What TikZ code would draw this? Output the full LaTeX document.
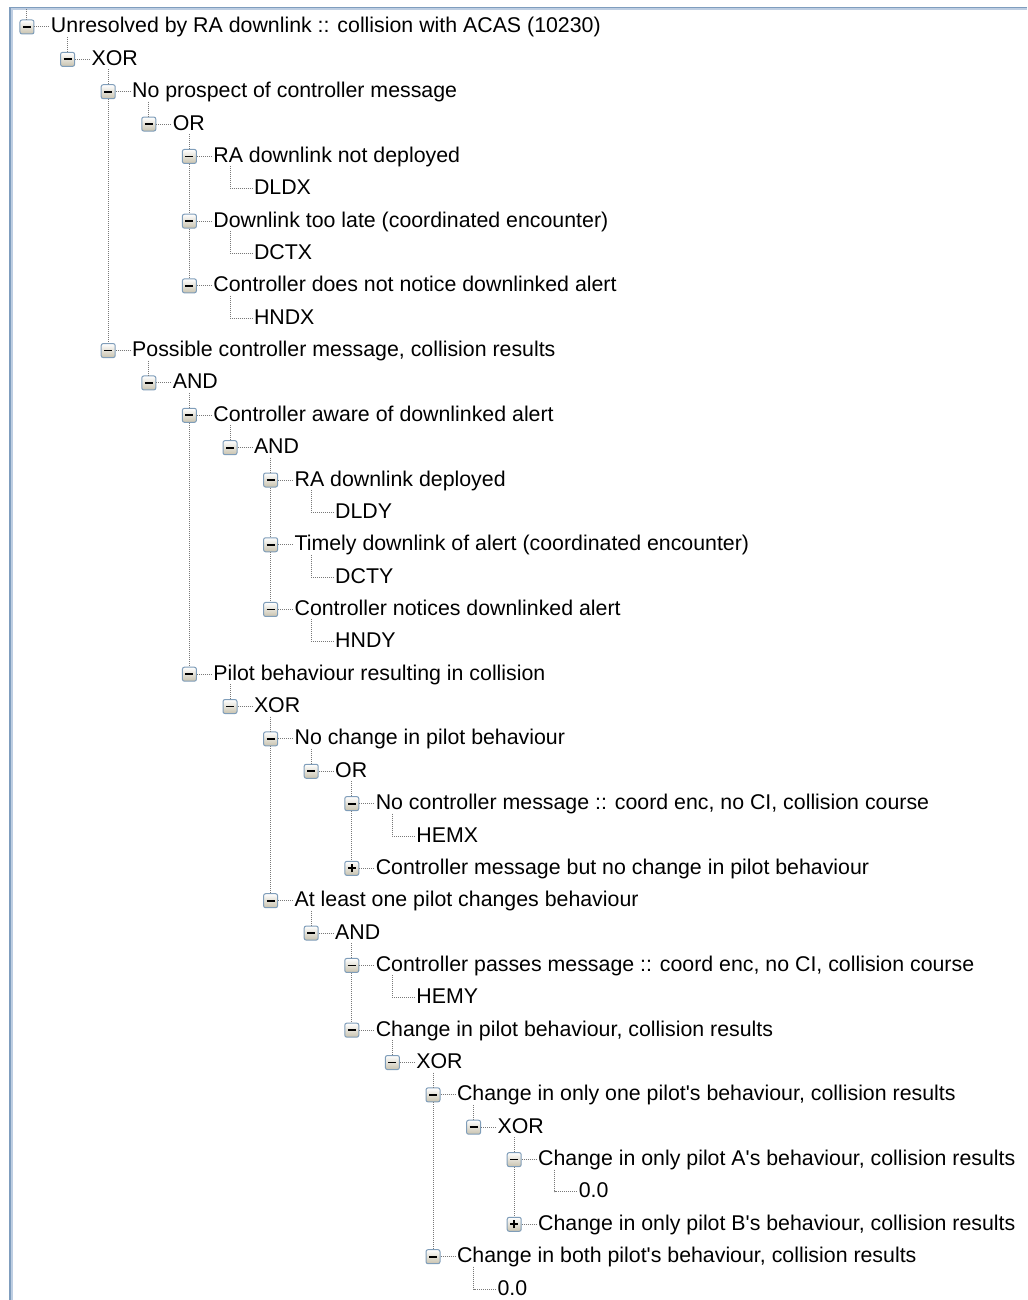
\documentclass[tikz,border=0pt]{standalone}
\usepackage{fontspec}
\setmainfont{Liberation Sans}
\usetikzlibrary{positioning}
\definecolor{boxedge}{RGB}{127,157,185}
\definecolor{boxfoot}{RGB}{200,194,174}
\definecolor{dotgray}{RGB}{120,120,120}
\definecolor{frameout}{RGB}{127,157,190}
\definecolor{framein}{RGB}{190,206,226}
\tikzstyle{minusbox}=[rectangle, draw=boxedge, line width=0.75pt, rounded corners=1.5pt, minimum size=10.5pt, inner sep=0pt, top color=white, bottom color=boxfoot,
  path picture={\draw[black, line width=1.3pt] (path picture bounding box.center) ++(-3pt,0) -- ++(6pt,0);}]
\tikzstyle{plusbox}=[rectangle, draw=boxedge, line width=0.75pt, rounded corners=1.5pt, minimum size=10.5pt, inner sep=0pt, top color=white, bottom color=boxfoot,
  path picture={\draw[black, line width=1.3pt] (path picture bounding box.center) ++(-3pt,0) -- ++(6pt,0)
    (path picture bounding box.center) ++(0,-3pt) -- ++(0,6pt);}]
\tikzstyle{txt}=[inner xsep=1.5pt, inner ysep=0pt, outer sep=0pt, text height=12pt, text depth=3pt, font=\fontsize{16pt}{19pt}\selectfont]
\tikzstyle{treeline}=[draw=dotgray, line width=0.75pt, dash pattern=on 0.75pt off 0.75pt]

\begin{document}
\begin{tikzpicture}[x=30.45pt, y=-24.27pt]
    \useasboundingbox (-0.665,-0.834) rectangle (24.631,39.339);
    % window frame
    \draw[frameout, line width=1.125pt] (24.631,-0.603) -- (-0.419,-0.603) -- (-0.419,39.339);
    \draw[framein, line width=1.125pt] (24.631,-0.556) -- (-0.369,-0.556) -- (-0.369,39.339);
    \begin{scope}
        \coordinate (top) at (0,-0.56);
        \node[minusbox] (b0) at (0,0) {}; \node[txt, right=16.5pt of b0.center] (t0) {Unresolved by RA downlink :: collision with ACAS (10230)};
        \node[minusbox] (b1) at (1,1) {}; \node[txt, right=16.5pt of b1.center] (t1) {XOR};
        \node[minusbox] (b2) at (2,2) {}; \node[txt, right=16.5pt of b2.center] (t2) {No prospect of controller message};
        \node[minusbox] (b3) at (3,3) {}; \node[txt, right=16.5pt of b3.center] (t3) {OR};
        \node[minusbox] (b4) at (4,4) {}; \node[txt, right=16.5pt of b4.center] (t4) {RA downlink not deployed};
        \coordinate (b5) at (5,5); \node[txt, right=16.5pt of b5.center] (t5) {DLDX};
        \node[minusbox] (b6) at (4,6) {}; \node[txt, right=16.5pt of b6.center] (t6) {Downlink too late (coordinated encounter)};
        \coordinate (b7) at (5,7); \node[txt, right=16.5pt of b7.center] (t7) {DCTX};
        \node[minusbox] (b8) at (4,8) {}; \node[txt, right=16.5pt of b8.center] (t8) {Controller does not notice downlinked alert};
        \coordinate (b9) at (5,9); \node[txt, right=16.5pt of b9.center] (t9) {HNDX};
        \node[minusbox] (b10) at (2,10) {}; \node[txt, right=16.5pt of b10.center] (t10) {Possible controller message, collision results};
        \node[minusbox] (b11) at (3,11) {}; \node[txt, right=16.5pt of b11.center] (t11) {AND};
        \node[minusbox] (b12) at (4,12) {}; \node[txt, right=16.5pt of b12.center] (t12) {Controller aware of downlinked alert};
        \node[minusbox] (b13) at (5,13) {}; \node[txt, right=16.5pt of b13.center] (t13) {AND};
        \node[minusbox] (b14) at (6,14) {}; \node[txt, right=16.5pt of b14.center] (t14) {RA downlink deployed};
        \coordinate (b15) at (7,15); \node[txt, right=16.5pt of b15.center] (t15) {DLDY};
        \node[minusbox] (b16) at (6,16) {}; \node[txt, right=16.5pt of b16.center] (t16) {Timely downlink of alert (coordinated encounter)};
        \coordinate (b17) at (7,17); \node[txt, right=16.5pt of b17.center] (t17) {DCTY};
        \node[minusbox] (b18) at (6,18) {}; \node[txt, right=16.5pt of b18.center] (t18) {Controller notices downlinked alert};
        \coordinate (b19) at (7,19); \node[txt, right=16.5pt of b19.center] (t19) {HNDY};
        \node[minusbox] (b20) at (4,20) {}; \node[txt, right=16.5pt of b20.center] (t20) {Pilot behaviour resulting in collision};
        \node[minusbox] (b21) at (5,21) {}; \node[txt, right=16.5pt of b21.center] (t21) {XOR};
        \node[minusbox] (b22) at (6,22) {}; \node[txt, right=16.5pt of b22.center] (t22) {No change in pilot behaviour};
        \node[minusbox] (b23) at (7,23) {}; \node[txt, right=16.5pt of b23.center] (t23) {OR};
        \node[minusbox] (b24) at (8,24) {}; \node[txt, right=16.5pt of b24.center] (t24) {No controller message :: coord enc, no CI, collision course};
        \coordinate (b25) at (9,25); \node[txt, right=16.5pt of b25.center] (t25) {HEMX};
        \node[plusbox] (b26) at (8,26) {}; \node[txt, right=16.5pt of b26.center] (t26) {Controller message but no change in pilot behaviour};
        \node[minusbox] (b27) at (6,27) {}; \node[txt, right=16.5pt of b27.center] (t27) {At least one pilot changes behaviour};
        \node[minusbox] (b28) at (7,28) {}; \node[txt, right=16.5pt of b28.center] (t28) {AND};
        \node[minusbox] (b29) at (8,29) {}; \node[txt, right=16.5pt of b29.center] (t29) {Controller passes message :: coord enc, no CI, collision course};
        \coordinate (b30) at (9,30); \node[txt, right=16.5pt of b30.center] (t30) {HEMY};
        \node[minusbox] (b31) at (8,31) {}; \node[txt, right=16.5pt of b31.center] (t31) {Change in pilot behaviour, collision results};
        \node[minusbox] (b32) at (9,32) {}; \node[txt, right=16.5pt of b32.center] (t32) {XOR};
        \node[minusbox] (b33) at (10,33) {}; \node[txt, right=16.5pt of b33.center] (t33) {Change in only one pilot\textquotesingle s behaviour, collision results};
        \node[minusbox] (b34) at (11,34) {}; \node[txt, right=16.5pt of b34.center] (t34) {XOR};
        \node[minusbox] (b35) at (12,35) {}; \node[txt, right=16.5pt of b35.center] (t35) {Change in only pilot A\textquotesingle s behaviour, collision results};
        \coordinate (b36) at (13,36); \node[txt, right=16.5pt of b36.center] (t36) {0.0};
        \node[plusbox] (b37) at (12,37) {}; \node[txt, right=16.5pt of b37.center] (t37) {Change in only pilot B\textquotesingle s behaviour, collision results};
        \node[minusbox] (b38) at (10,38) {}; \node[txt, right=16.5pt of b38.center] (t38) {Change in both pilot\textquotesingle s behaviour, collision results};
        \coordinate (b39) at (11,39); \node[txt, right=16.5pt of b39.center] (t39) {0.0};
    \end{scope}
    \begin{scope}
        % box to text
        \draw[treeline] (b0) -- (t0);   \draw[treeline] (b1) -- (t1);   \draw[treeline] (b2) -- (t2);
        \draw[treeline] (b3) -- (t3);   \draw[treeline] (b4) -- (t4);   \draw[treeline] (b6) -- (t6);
        \draw[treeline] (b8) -- (t8);   \draw[treeline] (b10) -- (t10); \draw[treeline] (b11) -- (t11);
        \draw[treeline] (b12) -- (t12); \draw[treeline] (b13) -- (t13); \draw[treeline] (b14) -- (t14);
        \draw[treeline] (b16) -- (t16); \draw[treeline] (b18) -- (t18); \draw[treeline] (b20) -- (t20);
        \draw[treeline] (b21) -- (t21); \draw[treeline] (b22) -- (t22); \draw[treeline] (b23) -- (t23);
        \draw[treeline] (b24) -- (t24); \draw[treeline] (b26) -- (t26); \draw[treeline] (b27) -- (t27);
        \draw[treeline] (b28) -- (t28); \draw[treeline] (b29) -- (t29); \draw[treeline] (b31) -- (t31);
        \draw[treeline] (b32) -- (t32); \draw[treeline] (b33) -- (t33); \draw[treeline] (b34) -- (t34);
        \draw[treeline] (b35) -- (t35); \draw[treeline] (b37) -- (t37); \draw[treeline] (b38) -- (t38);
        % leaves
        \draw[treeline] (b5 |- t4.south) |- (t5.west);
        \draw[treeline] (b7 |- t6.south) |- (t7.west);
        \draw[treeline] (b9 |- t8.south) |- (t9.west);
        \draw[treeline] (b15 |- t14.south) |- (t15.west);
        \draw[treeline] (b17 |- t16.south) |- (t17.west);
        \draw[treeline] (b19 |- t18.south) |- (t19.west);
        \draw[treeline] (b25 |- t24.south) |- (t25.west);
        \draw[treeline] (b30 |- t29.south) |- (t30.west);
        \draw[treeline] (b36 |- t35.south) |- (t36.west);
        \draw[treeline] (b39 |- t38.south) |- (t39.west);
        % sibling columns
        \draw[treeline] (top) -- (b0);
        \draw[treeline] (b1 |- t0.south) -- (b1);
        \draw[treeline] (b2 |- t1.south) -- (b2) -- (b10);
        \draw[treeline] (b3 |- t2.south) -- (b3);
        \draw[treeline] (b4 |- t3.south) -- (b4) -- (b6) -- (b8);
        \draw[treeline] (b11 |- t10.south) -- (b11);
        \draw[treeline] (b12 |- t11.south) -- (b12) -- (b20);
        \draw[treeline] (b13 |- t12.south) -- (b13);
        \draw[treeline] (b14 |- t13.south) -- (b14) -- (b16) -- (b18);
        \draw[treeline] (b21 |- t20.south) -- (b21);
        \draw[treeline] (b22 |- t21.south) -- (b22) -- (b27);
        \draw[treeline] (b23 |- t22.south) -- (b23);
        \draw[treeline] (b24 |- t23.south) -- (b24) -- (b26);
        \draw[treeline] (b28 |- t27.south) -- (b28);
        \draw[treeline] (b29 |- t28.south) -- (b29) -- (b31);
        \draw[treeline] (b32 |- t31.south) -- (b32);
        \draw[treeline] (b33 |- t32.south) -- (b33) -- (b38);
        \draw[treeline] (b34 |- t33.south) -- (b34);
        \draw[treeline] (b35 |- t34.south) -- (b35) -- (b37);
    \end{scope}
\end{tikzpicture}
\end{document}
